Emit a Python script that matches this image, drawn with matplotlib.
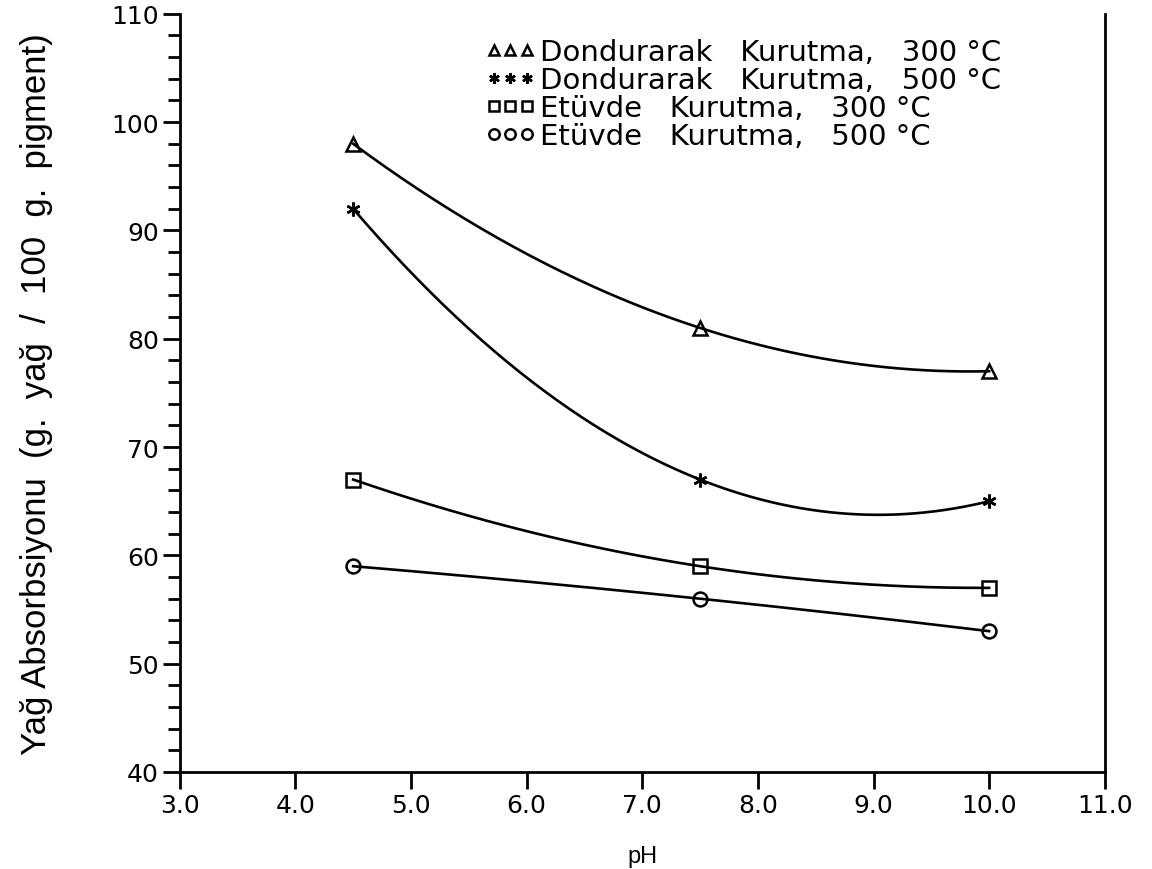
import numpy as np
import matplotlib
matplotlib.use('Agg')
import matplotlib.pyplot as plt

# pH degerleri ve yag absorpsiyonu (g yag / 100 g pigment)
ph = [4.5, 7.5, 10.0]
dondurarak_300 = [98, 81, 77]
dondurarak_500 = [92, 67, 65]
etuvde_300 = [67, 59, 57]
etuvde_500 = [59, 56, 53]

etiketler = ['Dondurarak   Kurutma,   300 °C',
             'Dondurarak   Kurutma,   500 °C',
             'Etüvde   Kurutma,   300 °C',
             'Etüvde   Kurutma,   500 °C']
isaretler = ['^', (6, 2, 0), 's', 'o']
seriler = [dondurarak_300, dondurarak_500, etuvde_300, etuvde_500]

fig = plt.figure(figsize=(11.52, 8.70), dpi=100)
ax = fig.add_axes([0.156, 0.1115, 0.803, 0.8715])

x_egri = np.linspace(ph[0], ph[-1], 200)
tutamaclar = []
for y, m, lab in zip(seriler, isaretler, etiketler):
    # 3 noktadan gecen ikinci derece egri
    k = np.polyfit(ph, y, 2)
    ax.plot(x_egri, np.polyval(k, x_egri), color='black', lw=1.9)
    h, = ax.plot(ph, y, linestyle='none', marker=m, markersize=10,
                 markerfacecolor='none', markeredgecolor='black',
                 markeredgewidth=1.8, label=lab)
    tutamaclar.append(h)

ax.set_xlim(3, 11)
ax.set_ylim(40, 110)
ax.set_xticks(np.arange(3, 11.5, 1))
ax.set_xticklabels(['%.1f' % v for v in np.arange(3, 11.5, 1)])
ax.set_yticks(np.arange(40, 111, 10))
ax.set_yticks(np.arange(40, 111, 2), minor=True)

ax.spines['top'].set_visible(False)
for s in ['left', 'bottom', 'right']:
    ax.spines[s].set_linewidth(2)

ax.tick_params(axis='both', which='major', direction='out', length=12, width=2,
               labelsize=18, pad=3)
ax.tick_params(axis='y', which='minor', direction='out', length=8.5, width=2)
ax.tick_params(axis='x', which='minor', length=0)

ax.set_xlabel('pH', fontsize=17, family='Liberation Sans', labelpad=20)
ax.set_ylabel('Yağ Absorbsiyonu  (g.  yağ  /  100  g.  pigment)', fontsize=25,
              family='Liberation Sans', labelpad=42)

ax.legend(handles=tutamaclar, loc='upper left', bbox_to_anchor=(0.315, 0.987),
          numpoints=3, frameon=False, fontsize=21, handlelength=1.7,
          handletextpad=0.15, labelspacing=0.0, borderpad=0, markerscale=0.75)

fig.savefig('out.png', dpi=100)
